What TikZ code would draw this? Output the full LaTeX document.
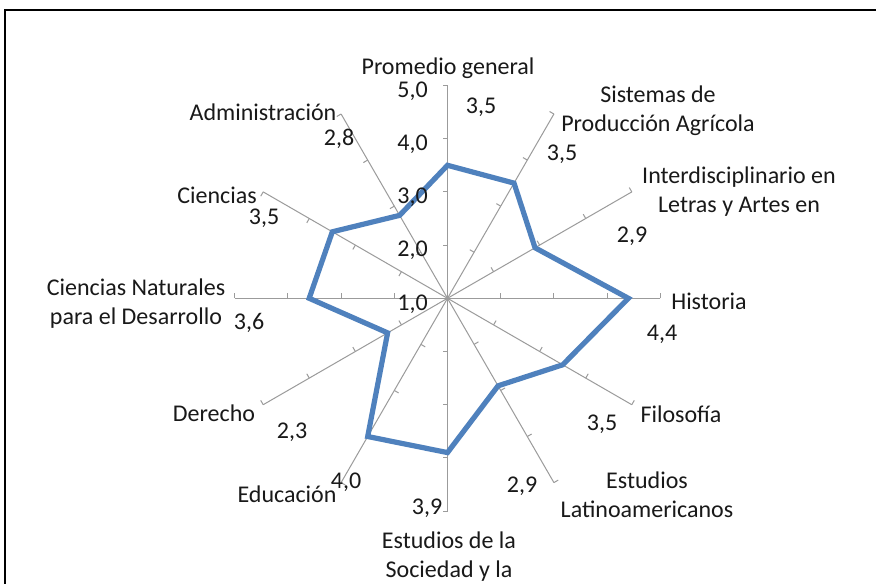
\documentclass[tikz,border=0pt]{standalone}
\usepackage{fontspec}
\setmainfont{Carlito}
\usetikzlibrary{calc}
\definecolor{seriesblue}{RGB}{79,129,189}
\definecolor{axisgray}{RGB}{155,155,155}
\definecolor{labeltext}{RGB}{25,25,25}
\begin{document}
\begin{tikzpicture}[x=1pt,y=1pt,
  lbl/.style={font=\fontsize{24}{29}\selectfont, text=labeltext, inner sep=0pt, align=center},
  axisline/.style={draw=axisgray, line width=1pt},
  series/.style={draw=seriesblue, line width=5.2pt, line join=miter}]
\useasboundingbox (0,0) rectangle (876,584);
\fill[white] (0,0) rectangle (876,584);
\draw[line width=1.6pt] (5,0) -- (5,574) -- (876,574);
\coordinate (C) at (447.5,285.7);
% axes with ticks
\foreach \a/\s [count=\i] in {90/1,60/1,30/1,0/1,-30/1,-60/1,-90/-1,-120/1,-150/-1,180/-1,150/1,120/1}{
  \coordinate (e\i) at ($(C)+(\a:212.8)$);
  \draw[axisline] (C) -- (e\i);
  \pgfmathsetmacro\t{\a+\s*90}
  \foreach \k in {1,2,3,4}{
    \draw[axisline] ($(C)+(\a:\k*53.2)$) -- ++(\t:5);
  }
}
% data series
\begin{scope}[shift={(C)}]
\draw[series] (90:133.0) -- (60:133.0) -- (30:101.08) -- (0:180.88) -- (-30:133.0)
  -- (-60:101.08) -- (-90:154.28) -- (-120:159.6) -- (-150:69.16) -- (180:138.32)
  -- (150:133.0) -- (120:95.76) -- cycle;
\end{scope}
% value axis labels
\node[lbl,anchor=east] (v50) at (428,493) {5,0};
\node[lbl,anchor=east] (v40) at (428,439.8) {4,0};
\node[lbl,anchor=east] (v30) at (428,386.6) {3,0};
\node[lbl,anchor=east] (v20) at (428,333.4) {2,0};
\node[lbl,anchor=east] (v10) at (428,280.2) {1,0};
% category labels
\node[lbl] (pg) at (448,516) {Promedio general};
\node[lbl] (p35) at (481,477) {3,5};
\node[lbl] (sis) at (658,473) {Sistemas de\\Producción Agrícola};
\node[lbl] (s35) at (562,430) {3,5};
\node[lbl] (int) at (739,392) {Interdisciplinario en\\Letras y Artes en};
\node[lbl] (i29) at (632,348) {2,9};
\node[lbl] (his) at (709,283) {Historia};
\node[lbl] (h44) at (662,250) {4,4};
\node[lbl] (fil) at (681,170) {Filosofía};
\node[lbl] (f35) at (602,160) {3,5};
\node[lbl] (estl) at (647,89) {Estudios\\Latinoamericanos};
\node[lbl] (el29) at (522,98) {2,9};
\node[lbl] (ests) at (449,27) {Estudios de la\\Sociedad y la};
\node[lbl] (es39) at (427,76) {3,9};
\node[lbl] (edu) at (287,90) {Educación};
\node[lbl] (ed40) at (346,102) {4,0};
\node[lbl] (der) at (214,171) {Derecho};
\node[lbl] (d23) at (292,152) {2,3};
\node[lbl] (cn) at (136,280) {Ciencias Naturales\\para el Desarrollo};
\node[lbl] (cn36) at (249,261) {3,6};
\node[lbl] (cie) at (217,389) {Ciencias};
\node[lbl] (c35) at (264,366) {3,5};
\node[lbl] (adm) at (263,472) {Administración};
\node[lbl] (a28) at (339,445) {2,8};
\end{tikzpicture}
\end{document}
